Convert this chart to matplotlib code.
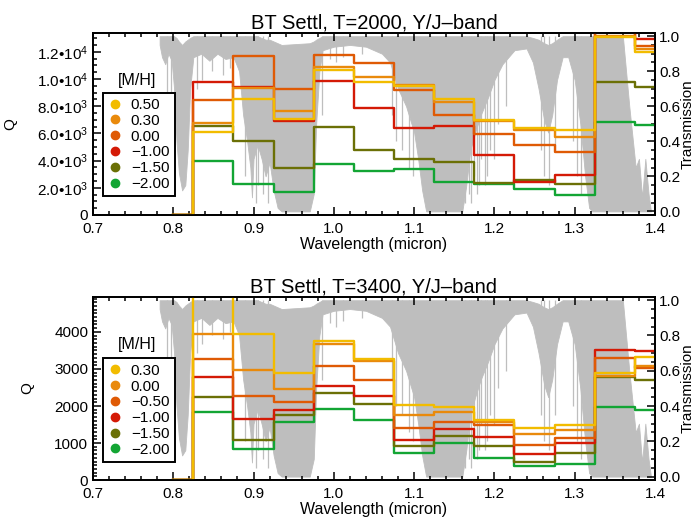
import numpy as np
import matplotlib
matplotlib.use('Agg')
import matplotlib.pyplot as plt
from matplotlib.lines import Line2D
from matplotlib.ticker import MultipleLocator, AutoMinorLocator

plt.rcParams['font.family'] = ['Liberation Sans', 'DejaVu Sans']
plt.rcParams['mathtext.fontset'] = 'custom'
plt.rcParams['mathtext.rm'] = 'Liberation Sans'
plt.rcParams['mathtext.it'] = 'Liberation Sans'

# bin centres (micron), histogram style
wl_bins = [0.80, 0.85, 0.90, 0.95, 1.00, 1.05, 1.10, 1.15, 1.20, 1.25, 1.30, 1.35, 1.40]

# T=2000 K
mh_2000 = ['0.50', '0.30', '0.00', '\u22121.00', '\u22121.50', '\u22122.00']
q_2000 = [
    [0, 6070, 8540, 7070, 10650, 9750, 9510, 8520, 6990, 6400, 6240, 13050, 12000],
    [0, 6780, 9300, 7660, 10870, 10110, 9550, 8330, 6900, 6240, 5760, 13150, 12200],
    [0, 8450, 11700, 9250, 11750, 11140, 9170, 7330, 5950, 5150, 4660, 13800, 12450],
    [0, 9790, 9420, 6920, 9860, 7880, 6420, 6560, 4400, 2430, 2900, 13800, 12970],
    [0, 6530, 5450, 3470, 6440, 4770, 4110, 3920, 2340, 2600, 2280, 9770, 9400],
    [0, 3980, 2270, 1660, 3740, 3230, 3340, 2420, 2270, 1940, 1500, 6830, 6610],
]

# T=3400 K
mh_3400 = ['0.30', '0.00', '\u22120.50', '\u22121.00', '\u22121.50', '\u22122.00']
q_3400 = [
    [0, 5200, 3950, 2880, 3760, 3260, 2040, 1980, 1620, 1400, 1490, 2880, 3330],
    [0, 3930, 2960, 2460, 3660, 3220, 1770, 1830, 1570, 1240, 1350, 2810, 3070],
    [0, 3280, 2270, 2110, 3080, 2700, 1410, 1570, 1485, 950, 1150, 3300, 3020],
    [0, 2780, 1650, 1880, 2540, 2270, 1090, 1380, 1170, 700, 990, 3510, 3480],
    [0, 2250, 1090, 1750, 2360, 2060, 920, 1190, 920, 500, 720, 2770, 2700],
    [0, 1830, 850, 1580, 1920, 1620, 730, 990, 600, 380, 440, 1980, 1880],
]

colors = ['#f2bc00', '#e98a0c', '#df5a05', '#d41a06', '#6b7006', '#13a534']

# atmospheric transmission: envelope of the dense line spectrum
trans_wl = [0.783, 0.786, 0.790, 0.794, 0.798, 0.801, 0.804, 0.807, 0.811, 0.815,
            0.818, 0.821, 0.825, 0.835, 0.845, 0.855, 0.865, 0.875, 0.882, 0.887,
            0.892, 0.896, 0.898, 0.900, 0.905, 0.910, 0.915, 0.920, 0.925, 0.930,
            0.935, 0.970, 0.975, 0.978, 0.982, 0.986, 1.000, 1.020, 1.040, 1.060,
            1.070, 1.080, 1.090, 1.100, 1.105, 1.110, 1.115, 1.160, 1.165, 1.170,
            1.176, 1.183, 1.192, 1.200, 1.210, 1.225, 1.240, 1.248, 1.255, 1.262,
            1.267, 1.272, 1.278, 1.285, 1.292, 1.300, 1.307, 1.313, 1.318, 1.322,
            1.360, 1.368, 1.376, 1.380, 1.384, 1.388, 1.392, 1.395]
trans_hi = [1.00, 1.00, 1.00, 1.00, 1.00, 1.00, 0.99, 0.97, 0.95, 0.97,
            0.98, 0.99, 1.00, 1.00, 1.00, 1.00, 1.00, 1.00, 1.00, 1.00,
            1.00, 1.00, 1.00, 1.00, 1.00, 0.99, 0.98, 0.98, 0.97, 0.96,
            0.95, 0.96, 0.97, 0.98, 0.99, 1.00, 1.00, 1.00, 1.00, 1.00,
            1.00, 1.00, 1.00, 1.00, 1.00, 1.00, 1.00, 1.00, 1.00, 1.00,
            1.00, 1.00, 1.00, 1.00, 1.00, 1.00, 1.00, 0.99, 0.98, 0.96,
            0.95, 0.96, 0.98, 1.00, 1.00, 1.00, 1.00, 1.00, 1.00, 1.00,
            1.00, 0.60, 0.25, 0.30, 0.08, 0.30, 0.10, 0.00]
trans_lo = [0.95, 0.88, 0.84, 0.90, 0.86, 0.70, 0.40, 0.22, 0.12, 0.15,
            0.35, 0.70, 0.88, 0.90, 0.86, 0.90, 0.87, 0.88, 0.80, 0.55,
            0.40, 0.25, 0.08, 0.30, 0.38, 0.30, 0.20, 0.28, 0.12, 0.02,
            0.00, 0.00, 0.10, 0.50, 0.80, 0.92, 0.94, 0.95, 0.94, 0.90,
            0.85, 0.70, 0.60, 0.45, 0.30, 0.12, 0.00, 0.00, 0.15, 0.35,
            0.45, 0.55, 0.65, 0.75, 0.84, 0.92, 0.93, 0.85, 0.70, 0.52,
            0.45, 0.55, 0.75, 0.88, 0.88, 0.75, 0.50, 0.20, 0.02, 0.00,
            0.00, 0.00, 0.00, 0.00, 0.00, 0.00, 0.00, 0.00]

# deeper individual lines
line_wl = [0.792, 0.797, 0.829, 0.836, 0.848, 0.862, 0.871, 0.889, 0.903, 0.906,
           0.912, 0.918, 0.985, 0.995, 1.003, 1.012, 1.035, 1.072, 1.078, 1.085,
           1.093, 1.098, 1.163, 1.168, 1.171, 1.174, 1.178, 1.181, 1.183, 1.188,
           1.191, 1.195, 1.200, 1.205, 1.215, 1.258, 1.262, 1.268, 1.275, 1.298,
           1.303, 1.308]
line_depth = [0.60, 0.55, 0.70, 0.75, 0.80, 0.78, 0.82, 0.20, 0.05, 0.15,
              0.10, 0.05, 0.55, 0.87, 0.85, 0.88, 0.90, 0.55, 0.40, 0.35,
              0.25, 0.20, 0.05, 0.10, 0.05, 0.20, 0.10, 0.15, 0.30, 0.15,
              0.20, 0.35, 0.30, 0.50, 0.60, 0.35, 0.20, 0.15, 0.35, 0.40,
              0.20, 0.10]

GRAY = '#bebebe'


def sci_label(v):
    if v == 0:
        return '0'
    e = int(np.floor(np.log10(v)))
    return f'{v / 10**e:.1f}\u2022' + '10$^{' + str(e) + '}$'


def draw_panel(rect, title, q, labels, ymax, yticks, ylabels, yminor,
               leg_top, mh_y):
    ax = fig.add_axes(rect)
    ax2 = ax.twinx()

    # transmission in the background
    ax2.fill_between(trans_wl, trans_lo, trans_hi, color=GRAY, lw=0.6,
                     edgecolor=GRAY)
    ax2.vlines(line_wl, line_depth, 1.0, color=GRAY, lw=0.9)
    ax2.set_ylim(-0.02, 1.02)
    ax2.yaxis.set_minor_locator(AutoMinorLocator(4))
    ax2.set_yticks([0, 0.2, 0.4, 0.6, 0.8, 1.0],
                   ['0.0', '0.2', '0.4', '0.6', '0.8', '1.0'])
    ax2.set_ylabel('Transmission', fontsize=11, labelpad=0)
    ax2.tick_params(which='both', direction='in', labelsize=11, width=1.1)
    ax2.tick_params(which='major', length=6, pad=3)
    ax2.tick_params(which='minor', length=3)

    ax.set_zorder(ax2.get_zorder() + 1)
    ax.patch.set_visible(False)

    for vals, c in reversed(list(zip(q, colors))):
        ax.step(wl_bins, vals, where='mid', color=c, lw=1.7)

    ax.set_xlim(0.7, 1.4)
    ax.set_ylim(0, ymax)
    ax.set_yticks(yticks, ylabels)
    ax.yaxis.set_minor_locator(AutoMinorLocator(yminor))
    ax.xaxis.set_minor_locator(AutoMinorLocator(5))
    ax.set_xticks([0.7, 0.8, 0.9, 1.0, 1.1, 1.2, 1.3, 1.4],
                  ['0.7', '0.8', '0.9', '1.0', '1.1', '1.2', '1.3', '1.4'])
    ax.tick_params(which='both', direction='in', labelsize=11, width=1.1,
                   top=True, right=False)
    ax.tick_params(which='major', length=6)
    ax.tick_params(which='minor', length=3)
    ax.tick_params(axis='x', pad=5)
    ax.set_xlabel('Wavelength (micron)', fontsize=11.5, labelpad=1)
    ax.set_ylabel('Q', fontsize=11)
    ax.set_title(title, fontsize=14.5, pad=3)
    for a in (ax, ax2):
        for s in a.spines.values():
            s.set_linewidth(1.3)

    handles = [Line2D([], [], ls='none', marker='o', ms=6, color=c)
               for c in colors]
    leg = ax.legend(handles, labels, loc='upper left',
                    bbox_to_anchor=(0.017, leg_top), fontsize=11,
                    frameon=True, fancybox=False, edgecolor='black',
                    framealpha=1, handlelength=0.9, handletextpad=0.6,
                    borderpad=0.35, labelspacing=0.12, borderaxespad=0)
    leg.get_frame().set_linewidth(1.4)
    ax.text(0.078, mh_y, '[M/H]', transform=ax.transAxes, fontsize=11.5,
            ha='center', va='center')
    return ax


fig = plt.figure(figsize=(6.95, 5.23), dpi=100)

top_ticks = [0, 2000, 4000, 6000, 8000, 10000, 12000]
ax_a = draw_panel([0.1338, 0.5891, 0.8086, 0.3484],
                  'BT Settl, T=2000, Y/J\u2013band', q_2000, mh_2000,
                  13400, top_ticks, [sci_label(t) for t in top_ticks], 4,
                  0.671, 0.740)
ax_a.yaxis.set_label_coords(-0.135, 0.5)

bot_ticks = [0, 1000, 2000, 3000, 4000]
ax_b = draw_panel([0.1338, 0.0820, 0.8086, 0.3507],
                  'BT Settl, T=3400, Y/J\u2013band', q_3400, mh_3400,
                  4950, bot_ticks, [str(t) for t in bot_ticks], 10,
                  0.664, 0.737)
ax_b.yaxis.set_label_coords(-0.105, 0.5)

fig.savefig('out.png', dpi=100)
